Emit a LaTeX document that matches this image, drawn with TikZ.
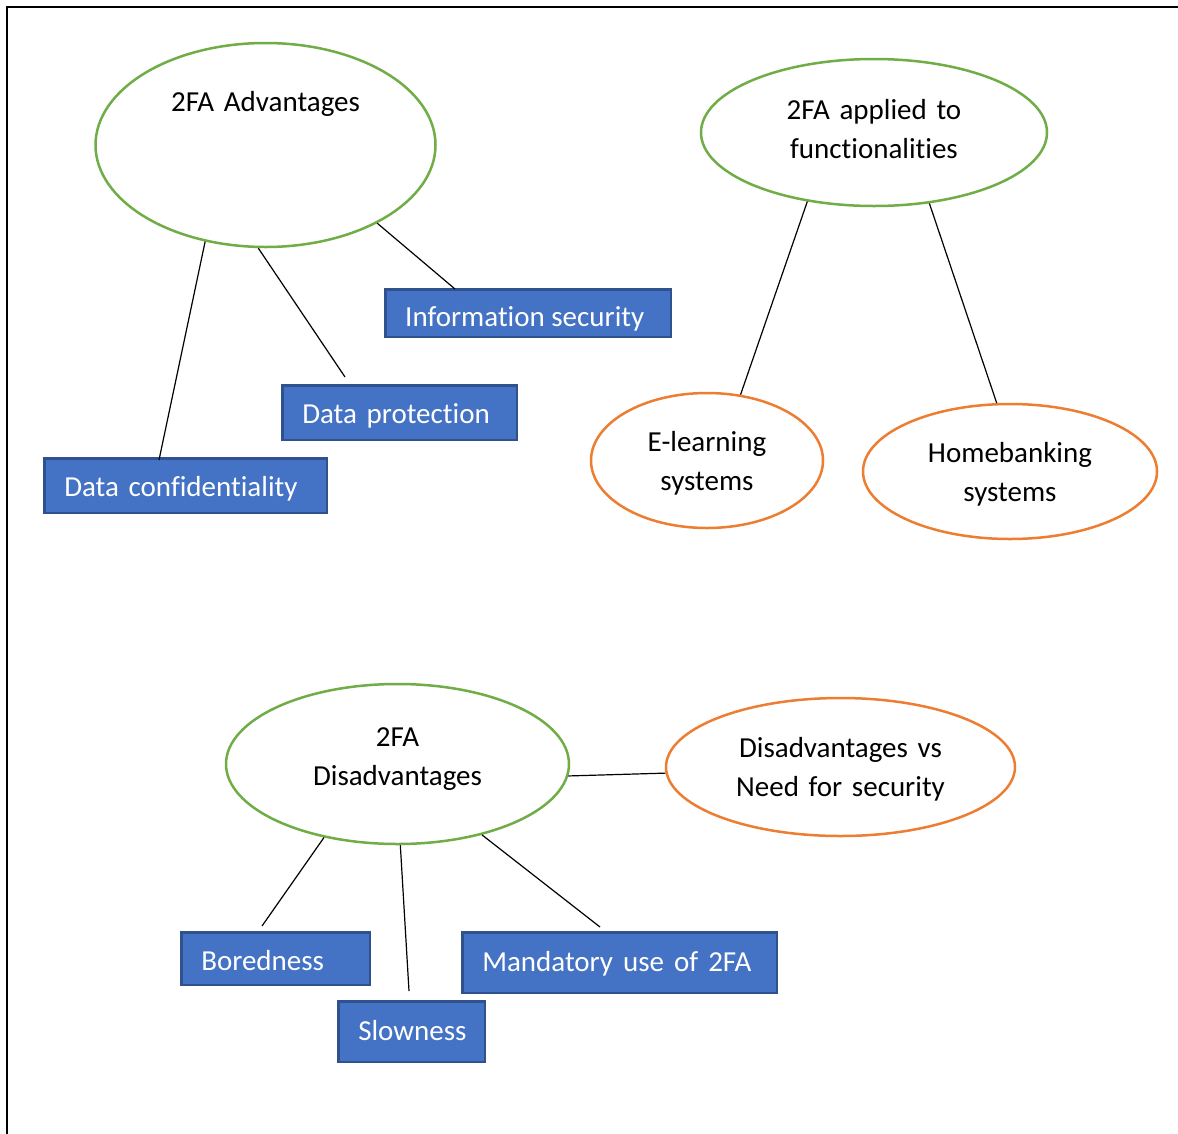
\documentclass[tikz,border=0pt]{standalone}
\usepackage{fontspec}
\setmainfont{Carlito}[Ligatures={NoCommon}]
\usetikzlibrary{shapes.geometric,calc}
\definecolor{ogreen}{HTML}{70AD47}
\definecolor{oorange}{HTML}{ED7D31}
\definecolor{oblue}{HTML}{4472C4}
\definecolor{oborder}{HTML}{2F528F}
\begin{document}
\begin{tikzpicture}[x=1pt,y=-1pt,
  oval/.style={ellipse, line width=2.5pt, inner sep=0pt},
  goval/.style={oval, draw=ogreen},
  ooval/.style={oval, draw=oorange},
  lbl/.style={anchor=base, align=center, text width=330pt, inner sep=0pt, font=\fontsize{29}{39}\selectfont},
  box/.style={rectangle, fill=oblue, draw=oborder, line width=2.5pt, inner xsep=20pt, inner ysep=0pt, align=left, text=white, font=\fontsize{29}{35}\selectfont, text height=21pt, text depth=0pt},
  conn/.style={black, line width=1.2pt}]
\useasboundingbox (0,0) rectangle (1178,1133);
\clip (0,0) rectangle (1178,1133);
\fill[white] (0,0) rectangle (1178,1133);
\draw[line width=2.8pt] (7,1200) -- (7,7) -- (1250,7);

% ellipses
\node[goval, minimum width=340, minimum height=204] (adv) at (265.5,145) {};
\node[goval, minimum width=346, minimum height=147] (app) at (874,132.5) {};
\node[ooval, minimum width=232, minimum height=135] (elearn) at (707,460.5) {};
\node[ooval, minimum width=294, minimum height=135] (home) at (1010,471.5) {};
\node[goval, minimum width=343, minimum height=160] (dis) at (397.5,764) {};
\node[ooval, minimum width=349, minimum height=138] (need) at (840.5,767) {};

% ellipse labels
\node[lbl] (advT) at (265.5,111) {2FA Advantages};
\node[lbl] (appT) at (874,119) {2FA applied to\\functionalities};
\node[lbl] (elearnT) at (707,451) {E-learning\\systems};
\node[lbl] (homeT) at (1010,462) {Homebanking\\systems};
\node[lbl] (disT) at (397.5,746) {2FA\\Disadvantages};
\node[lbl] (needT) at (840.5,757) {Disadvantages vs\\Need for security};

% boxes
\node[box, text width=242.5pt, minimum height=54.5pt] (conf) at (185.5,485.5) {Data confidentiality};
\node[box, text width=194.5pt, minimum height=54.5pt] (prot) at (399.5,412.5) {Data protection};
\node[box, minimum width=285.5pt, minimum height=47.5pt] (info) at (528,313) {};
\begin{scope}
  \clip (info.north west) rectangle ($(info.south east)+(0,-8)$);
  \node[anchor=base west, text=white, inner sep=0pt, font=\fontsize{29}{35}\selectfont] (infoT) at ($(info.west)+(21,13.7)$) {Information security};
\end{scope}
\node[box, text width=148.5pt, minimum height=52.5pt, text height=23pt] (bored) at (275.5,958.5) {Boredness};
\node[box, text width=106.5pt, minimum height=60.5pt, text height=17pt] (slow) at (411.5,1031.5) {Slowness};
\node[box, text width=274.5pt, minimum height=60.5pt, text height=17pt] (mand) at (619.5,962.5) {\mbox{Mandatory\hspace{10pt}use\hspace{10pt}of\hspace{10pt}2FA}};

% connectors
\draw[conn] (adv.-122) -- ($(conf.north)+(-26.5,3)$);
\draw[conn] (adv.-94.8) -- ($(prot.north)+(-54.5,-7)$);
\draw[conn] (adv.-35.2) -- ($(info.north)+(-73,1)$);
\draw[conn] (app.-134.3) -- (elearn.63.6);
\draw[conn] (app.-52.4) -- (home.101.5);
\draw[conn] (dis.-4.8) -- (need.-178.4);
\draw[conn] (dis.-135.6) -- ($(bored.north)+(-13.5,-5)$);
\draw[conn] (dis.-88.2) -- ($(slow.north)+(-2.5,-9)$);
\draw[conn] (dis.-40.4) -- ($(mand.north)+(-19.5,-4)$);
\end{tikzpicture}
\end{document}
